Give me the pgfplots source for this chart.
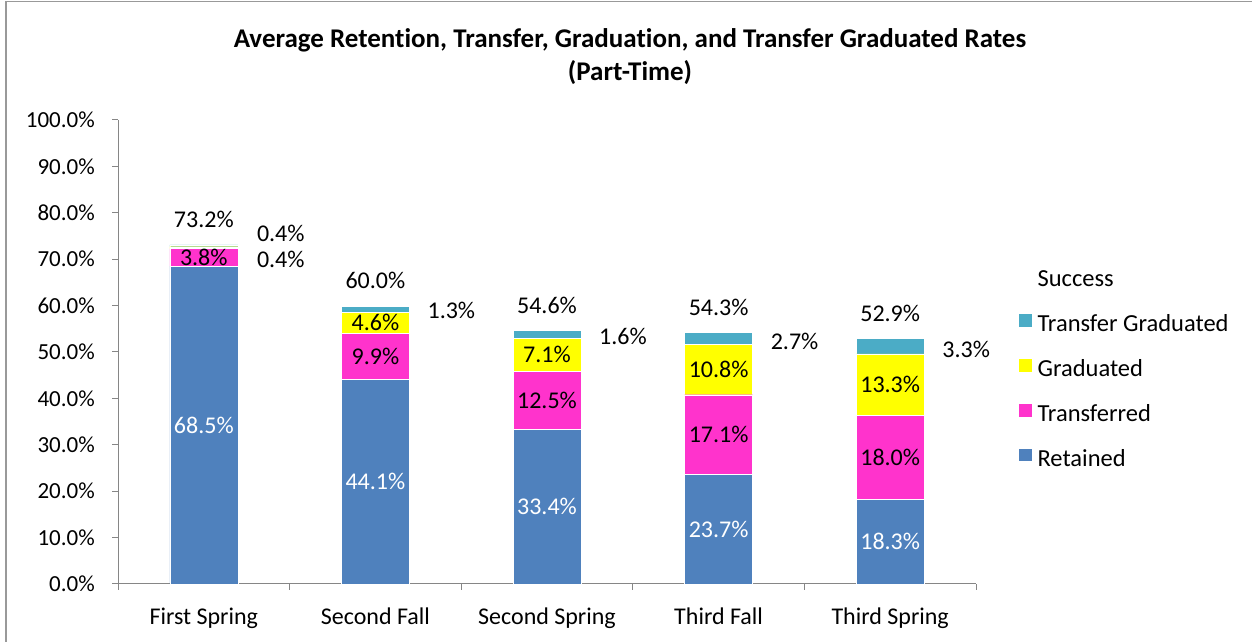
\documentclass[border=0pt]{standalone}
\usepackage{fontspec}
\setmainfont{Carlito}[Ligatures=CommonOff]
\usepackage{pgfplots}
\pgfplotsset{compat=1.18}
\definecolor{ret}{HTML}{4F81BD}
\definecolor{trn}{HTML}{FF33CC}
\definecolor{grd}{HTML}{FFFF00}
\definecolor{tgr}{HTML}{4BACC6}
\definecolor{axgray}{HTML}{868686}
\pgfplotsset{frame/.style={at={(118bp,58bp)}, anchor=south west,
  width=858bp, height=464bp, scale only axis,
  xmin=-0.5, xmax=4.5, ymin=0, ymax=100, clip=false}}
\begin{document}
\fontsize{24bp}{28bp}\selectfont
\begin{tikzpicture}[x=1bp,y=1bp]
\useasboundingbox (0,0) rectangle (1252,642);
\draw[color=gray!80, line width=1.5bp] (6,-30) rectangle (1290,640.5);
\node[font=\fontsize{27bp}{33bp}\selectfont\bfseries, align=center] at (630,585.5) {Average Retention, Transfer, Graduation, and Transfer Graduated Rates\\(Part-Time)};
\begin{axis}[
  frame,
  ybar stacked, bar width=68bp,
  axis lines*=left,
  axis line style={axgray, line width=1bp},
  xtick={0,1,2,3,4},
  xticklabels={First Spring, Second Fall, Second Spring, Third Fall, Third Spring},
  minor xtick={-0.5,0.5,1.5,2.5,3.5,4.5},
  major x tick style={draw=none},
  minor tick length=6bp,
  ytick={0,10,...,100},
  yticklabels={0.0\%,10.0\%,20.0\%,30.0\%,40.0\%,50.0\%,60.0\%,70.0\%,80.0\%,90.0\%,100.0\%},
  major tick length=6bp,
  tick align=outside,
  tick style={axgray, line width=1bp},
  xticklabel style={yshift=-10bp},
  yticklabel style={xshift=-9bp, font=\fontsize{23bp}{28bp}\selectfont},
  reverse legend,
  legend cell align=left,
  legend style={at={(1.049,0.6756)}, anchor=north west, draw=none, fill=none, inner sep=0pt,
    row sep=21.7bp, column sep=5bp, font=\fontsize{24.5bp}{28bp}\selectfont,
    nodes={inner sep=0pt, text height=16bp, text depth=5bp}},
  sq/.style={legend image code/.code={\fill[##1] (0bp,-1bp) rectangle (14bp,12.5bp);}},
]
\addplot[fill=ret, draw=white, line width=0.3bp, sq] coordinates {(0,68.5) (1,44.1) (2,33.4) (3,23.7) (4,18.3)};
\addlegendentry{Retained}
\addplot[fill=trn, draw=white, line width=0.3bp, sq] coordinates {(0,3.8) (1,9.9) (2,12.5) (3,17.1) (4,18.0)};
\addlegendentry{Transferred}
\addplot[fill=grd, draw=white, line width=0.3bp, sq] coordinates {(0,0.4) (1,4.6) (2,7.1) (3,10.8) (4,13.3)};
\addlegendentry{Graduated}
\addplot[fill=tgr, draw=white, line width=0.3bp, sq] coordinates {(0,0.4) (1,1.3) (2,1.6) (3,2.7) (4,3.3)};
\addlegendentry{Transfer Graduated}
\addlegendimage{empty legend}
\addlegendentry{Success}
\end{axis}
\begin{axis}[frame, hide axis]
% retained labels
\node[white] at (axis cs:0,34.25) {68.5\%};
\node[white] at (axis cs:1,22.05) {44.1\%};
\node[white] at (axis cs:2,16.7) {33.4\%};
\node[white] at (axis cs:3,11.85) {23.7\%};
\node[white] at (axis cs:4,9.15) {18.3\%};
% transferred
\node at (axis cs:0,70.4) {3.8\%};
\node at (axis cs:1,49.05) {9.9\%};
\node at (axis cs:2,39.65) {12.5\%};
\node at (axis cs:3,32.25) {17.1\%};
\node at (axis cs:4,27.3) {18.0\%};
% graduated
\node at (axis cs:1,56.3) {4.6\%};
\node at (axis cs:2,49.45) {7.1\%};
\node at (axis cs:3,46.2) {10.8\%};
\node at (axis cs:4,42.95) {13.3\%};
% right-side labels
\node[anchor=west, xshift=45bp] at (axis cs:0,75.6) {0.4\%};
\node[anchor=west, xshift=45bp] at (axis cs:0,70.0) {0.4\%};
\node[anchor=west, xshift=44bp, yshift=-1bp] at (axis cs:1,59.25) {1.3\%};
\node[anchor=west, xshift=44bp, yshift=-2bp] at (axis cs:2,53.8) {1.6\%};
\node[anchor=west, xshift=44bp, yshift=-3bp] at (axis cs:3,52.95) {2.7\%};
\node[anchor=west, xshift=44bp, yshift=-3bp] at (axis cs:4,51.25) {3.3\%};
% totals
\node[yshift=25bp] at (axis cs:0,73.1) {73.2\%};
\node[yshift=25bp] at (axis cs:1,60.0) {60.0\%};
\node[yshift=25bp] at (axis cs:2,54.6) {54.6\%};
\node[yshift=25bp] at (axis cs:3,54.3) {54.3\%};
\node[yshift=25bp] at (axis cs:4,52.9) {52.9\%};
\end{axis}
\end{tikzpicture}
\end{document}
